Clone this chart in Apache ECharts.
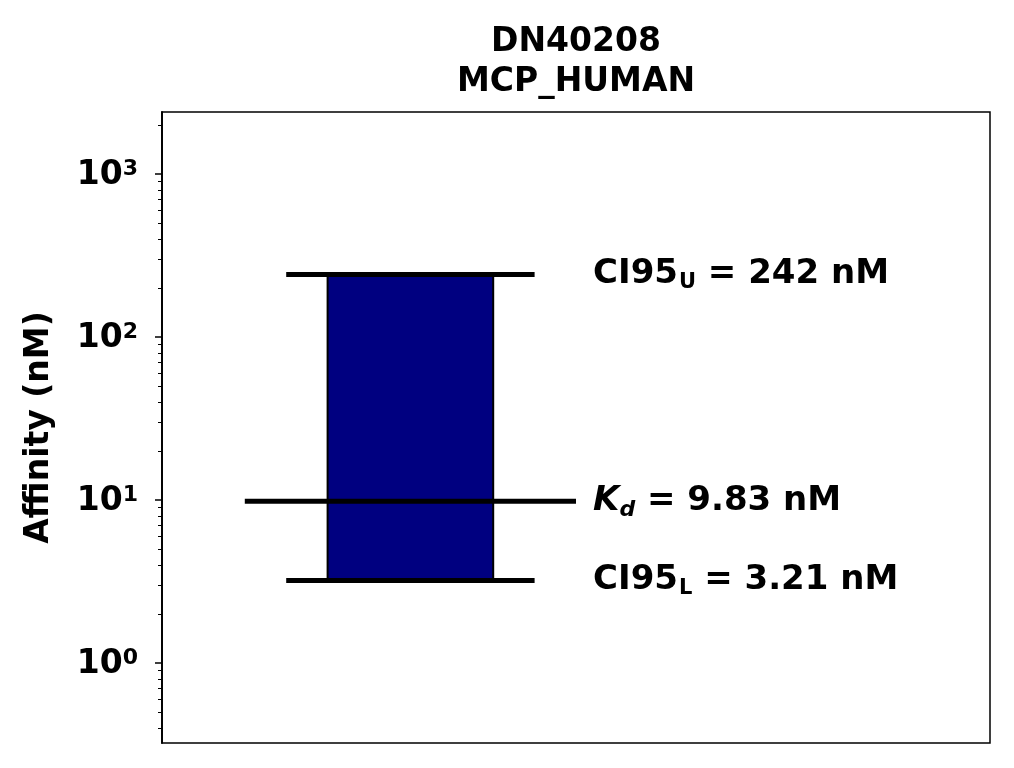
<!DOCTYPE html>
<html><head><meta charset="utf-8">
<script src="https://cdn.jsdelivr.net/npm/echarts@6/dist/echarts.min.js"></script>
<style>html,body{margin:0;padding:0;background:#fff}#c{width:1014px;height:768px}</style>
</head><body><div id="c"></div>
<script>
const titleLines = ['DN40208', 'MCP_HUMAN'];
const yAxisName = 'Affinity (nM)';
const kdValue = 9.83;
const ciLower = 3.21;
const ciUpper = 242;
const majorTickValues = [1, 10, 100, 1000];
const majorTickExponents = ['0', '1', '2', '3'];
const minorTickValues = [0.4, 0.5, 0.6, 0.7, 0.8, 0.9,
  2, 3, 4, 5, 6, 7, 8, 9,
  20, 30, 40, 50, 60, 70, 80, 90,
  200, 300, 400, 500, 600, 700, 800, 900, 2000];
const yRange = [0.323, 2400];
const xRange = [-0.75, 1.75];
const barX = 0, barW = 0.5, ciHalf = 0.375, kdHalf = 0.5, labelX = 0.55;

const FONT = 'DejaVu Sans';
const FS = 33;
const LFS = 34;
const chart = echarts.init(document.getElementById('c'));

function yAxisBase() {
  return {
    type: 'log', logBase: 10, min: yRange[0], max: yRange[1],
    position: 'left', splitLine: { show: false },
    axisLine: { show: true, onZero: false, lineStyle: { color: '#000', width: 1.5 } }
  };
}

const labelRich = {
  m: { fontFamily: FONT, fontWeight: 'bold', fontSize: LFS, lineHeight: 40, color: '#000' },
  u: { fontFamily: FONT, fontWeight: 'bold', fontSize: 21, lineHeight: 22, verticalAlign: 'top', padding: [18, 0, 0, 1], color: '#000' },
  k: { fontFamily: FONT, fontWeight: 'bold', fontStyle: 'italic', fontSize: LFS, lineHeight: 40, color: '#000' },
  kd: { fontFamily: FONT, fontWeight: 'bold', fontStyle: 'italic', fontSize: 22, lineHeight: 22, verticalAlign: 'top', padding: [18, 0, 0, 0], color: '#000' }
};
const labelTexts = [
  '{m|CI95}{u|U}{m| = ' + ciUpper + ' nM}',
  '{k|K}{kd|d}{m| = ' + kdValue + ' nM}',
  '{m|CI95}{u|L}{m| = ' + ciLower + ' nM}'
];

const option = {
  animation: false,
  backgroundColor: '#fff',
  title: {
    text: titleLines.join('\n'), left: 576, top: 22, padding: 0, textAlign: 'center',
    textStyle: { fontFamily: FONT, fontWeight: 'bold', fontSize: FS, lineHeight: 40, color: '#000' }
  },
  grid: { left: 162, right: 24, top: 112, bottom: 25, show: true, borderColor: '#000', borderWidth: 1.5, backgroundColor: 'transparent' },
  xAxis: { type: 'value', min: xRange[0], max: xRange[1], show: false },
  yAxis: [
    Object.assign(yAxisBase(), {
      name: yAxisName, nameLocation: 'middle', nameGap: 106,
      nameTextStyle: { fontFamily: FONT, fontWeight: 'bold', fontSize: FS, color: '#000' },
      axisTick: { show: true, length: 7, lineStyle: { color: '#000', width: 1.5 }, customValues: majorTickValues },
      axisLabel: {
        show: true, margin: 24, customValues: majorTickValues,
        formatter: function (v) {
          const i = majorTickValues.indexOf(Math.round(v * 1000) / 1000);
          return '{b|10}{s|' + majorTickExponents[i] + '}';
        },
        rich: {
          b: { fontFamily: FONT, fontWeight: 'bold', fontSize: FS, lineHeight: 32, padding: [3, 0, 0, 0], color: '#000' },
          s: { fontFamily: FONT, fontWeight: 'bold', fontSize: 22, lineHeight: 23, verticalAlign: 'top', color: '#000' }
        }
      }
    }),
    Object.assign(yAxisBase(), {
      axisTick: { show: true, length: 4, lineStyle: { color: '#000', width: 1 }, customValues: minorTickValues },
      axisLabel: { show: false }
    })
  ],
  series: [
    {
      type: 'custom', yAxisIndex: 0, z: 2,
      data: [[barX, ciLower, ciUpper]],
      renderItem: function (params, api) {
        const x = api.value(0), lo = api.value(1), hi = api.value(2);
        const p1 = api.coord([x - barW / 2, hi]);
        const p2 = api.coord([x + barW / 2, lo]);
        return { type: 'rect', shape: { x: p1[0], y: p1[1], width: p2[0] - p1[0], height: p2[1] - p1[1] },
          style: { fill: '#000080', stroke: '#000', lineWidth: 2 } };
      }
    },
    { type: 'line', z: 3, symbol: 'none', data: [[barX - ciHalf, ciUpper], [barX + ciHalf, ciUpper]], lineStyle: { color: '#000', width: 5 } },
    { type: 'line', z: 3, symbol: 'none', data: [[barX - kdHalf, kdValue], [barX + kdHalf, kdValue]], lineStyle: { color: '#000', width: 5 } },
    { type: 'line', z: 3, symbol: 'none', data: [[barX - ciHalf, ciLower], [barX + ciHalf, ciLower]], lineStyle: { color: '#000', width: 5 } },
    {
      type: 'scatter', z: 4, symbolSize: 1, itemStyle: { color: 'rgba(0,0,0,0)', opacity: 1 },
      data: [[labelX, ciUpper], [labelX, kdValue], [labelX, ciLower]],
      label: {
        show: true, position: 'right', distance: 0, color: '#000', opacity: 1,
        fontFamily: FONT, fontWeight: 'bold', fontSize: LFS,
        formatter: function (p) { return labelTexts[p.dataIndex]; },
        rich: labelRich
      }
    }
  ]
};
chart.setOption(option);
</script></body></html>
